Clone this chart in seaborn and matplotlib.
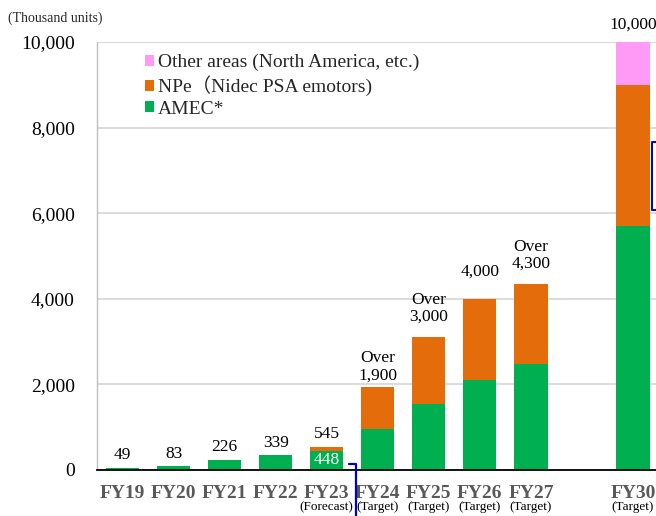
import matplotlib
matplotlib.use("Agg")
import matplotlib.pyplot as plt
import seaborn as sns
import pandas as pd
from matplotlib.patches import Patch
from matplotlib.lines import Line2D
import matplotlib.transforms as mtrans

# ---- data ----
categories = ["FY19", "FY20", "FY21", "FY22", "FY23", "FY24", "FY25", "FY26", "FY27", "FY30"]
amec = [49, 83, 226, 339, 448, 950, 1550, 2100, 2470, 5700]
npe = [0, 0, 0, 0, 97, 980, 1560, 1900, 1880, 3300]
other = [0, 0, 0, 0, 0, 0, 0, 0, 0, 1000]
top_labels = ["49", "83", "226", "339", "545", "Over\n1,900", "Over\n3,000", "4,000", "Over\n4,300", "10,000"]
sub_labels = ["", "", "", "", "(Forecast)", "(Target)", "(Target)", "(Target)", "(Target)", "(Target)"]
inner_label = {"FY23": "448"}
yticks = [0, 2000, 4000, 6000, 8000, 10000]
series_names = ["Other areas (North America, etc.)", "NPe\uff08Nidec PSA emotors)", "AMEC*"]

# ---- style ----
colors = {"other": "#FF9BF6", "npe": "#E46C0A", "amec": "#00B050"}
label_gap_pt = [3.5, 3.5, 3.5, 3.5, 3.5, 3, 8.5, 14, 8.5, 7]

gap = " "
order = categories[:9] + [gap] + categories[9:]

df = pd.DataFrame({"cat": categories, "amec": amec, "npe": npe, "other": other})
df["lvl2"] = df["amec"] + df["npe"]
df["lvl3"] = df["lvl2"] + df["other"]

sns.set_style("white")
plt.rcParams["font.family"] = ["Liberation Serif", "Noto Sans CJK JP", "DejaVu Sans"]

fig = plt.figure(figsize=(6.56, 5.16), dpi=100)
ax = fig.add_axes([97 / 656, 1 - 470 / 516, 1 - 97 / 656, (470 - 42) / 516])

w = 0.65
sns.barplot(data=df, x="cat", y="lvl3", order=order, color=colors["other"], width=w,
            saturation=1, linewidth=0, ax=ax, zorder=2)
sns.barplot(data=df, x="cat", y="lvl2", order=order, color=colors["npe"], width=w,
            saturation=1, linewidth=0, ax=ax, zorder=2)
sns.barplot(data=df, x="cat", y="amec", order=order, color=colors["amec"], width=w,
            saturation=1, linewidth=0, ax=ax, zorder=2)

ax.set_xlim(-0.5, 10.45)
ax.set_ylim(0, 10000)
ax.set_yticks(yticks)
ax.set_yticklabels([f"{v:,}" for v in yticks], fontsize=14, color="black")
ax.tick_params(axis="y", length=0, pad=16)
ax.tick_params(axis="x", length=0, pad=11)
ax.set_xticks(range(len(order)))
ax.set_xticklabels(order, fontsize=14, fontweight="bold", color="#595959")
ax.set_xlabel("")
ax.set_ylabel("")
ax.yaxis.grid(True, color="#D9D9D9", linewidth=1.3, zorder=0)
ax.set_axisbelow(True)
for s in ["top", "right"]:
    ax.spines[s].set_visible(False)
ax.spines["left"].set_color("#BFBFBF")
ax.spines["left"].set_linewidth(1.0)
ax.spines["bottom"].set_color("black")
ax.spines["bottom"].set_linewidth(1.3)

# value labels
trans_sub = mtrans.blended_transform_factory(ax.transData, fig.transFigure)
for i, cat in enumerate(categories):
    xpos = order.index(cat)
    total = df.loc[i, "lvl3"]
    ax.annotate(top_labels[i], (xpos, total), xytext=(0, label_gap_pt[i]), textcoords="offset points",
                ha="center", va="bottom", fontsize=12.5, linespacing=1.1, color="black")
    if cat in inner_label:
        ax.annotate(inner_label[cat], (xpos, df.loc[i, "amec"] / 2), ha="center", va="center",
                    fontsize=12.5, color="white")
    if sub_labels[i]:
        ax.text(xpos, 1 - 507 / 516, sub_labels[i], transform=trans_sub, ha="center", va="center",
                fontsize=9.5, color="black")

# legend
handles = [Patch(facecolor=colors["other"], edgecolor="none"),
           Patch(facecolor=colors["npe"], edgecolor="none"),
           Patch(facecolor=colors["amec"], edgecolor="none")]
leg = ax.legend(handles, series_names, loc="upper left", bbox_to_anchor=(0.072, 0.99),
                frameon=False, fontsize=14, handlelength=0.45, handleheight=0.45,
                handletextpad=0.2, labelspacing=0.22, borderaxespad=0)

# unit label
fig.text(8 / 656, 1 - 18 / 516, "(Thousand units)", fontsize=10, ha="left", va="center")

# blue callout lines (cropped annotations)
fig.add_artist(Line2D([349 / 656, 356 / 656, 356 / 656], [1 - 464 / 516, 1 - 464 / 516, 0],
                      color="#0000CC", linewidth=1.6, transform=fig.transFigure))
fig.add_artist(Line2D([1.0, 652 / 656, 652 / 656, 1.0],
                      [1 - 142 / 516, 1 - 142 / 516, 1 - 210 / 516, 1 - 210 / 516],
                      color="#0000CC", linewidth=1.4, transform=fig.transFigure))

fig.savefig("out.png", dpi=100)
